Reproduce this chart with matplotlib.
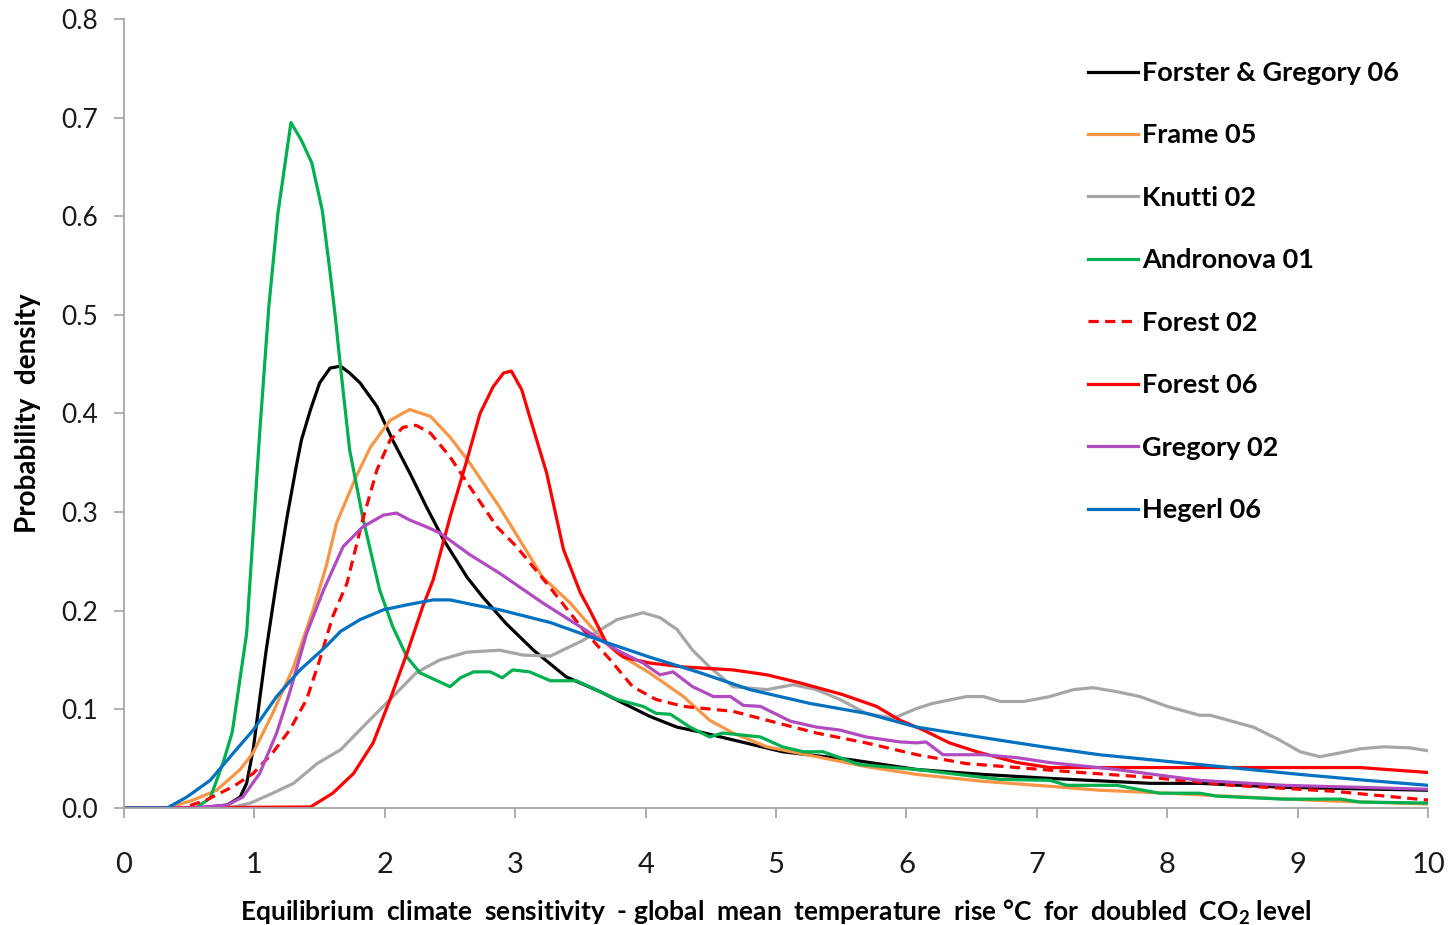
import matplotlib
matplotlib.use("Agg")
import matplotlib.pyplot as plt

plt.rcParams['font.family'] = ['Lato', 'DejaVu Sans']
plt.rcParams['mathtext.fontset'] = 'custom'
plt.rcParams['mathtext.rm'] = 'Lato'
plt.rcParams['mathtext.bf'] = 'Lato:bold'

# values (x = deg C, y = probability density)
forster_x = [0.0, 0.58, 0.79, 0.89, 0.94, 0.99, 1.04, 1.09, 1.17, 1.25, 1.32, 1.36, 1.43, 1.5,
             1.58, 1.66, 1.73, 1.81, 1.94, 2.06, 2.19, 2.32, 2.45, 2.63, 2.75, 2.93, 3.14, 3.39,
             3.65, 4.03, 4.24, 4.42, 4.67, 5.05, 5.57, 6.08, 6.59, 7.1, 7.87, 8.25, 8.89, 10.0]
forster_y = [0.0, 0.0, 0.003, 0.011, 0.025, 0.059, 0.11, 0.16, 0.23, 0.295, 0.346, 0.373, 0.404,
             0.431, 0.446, 0.448, 0.441, 0.431, 0.407, 0.373, 0.34, 0.305, 0.272, 0.234, 0.214,
             0.187, 0.16, 0.133, 0.118, 0.093, 0.082, 0.077, 0.069, 0.057, 0.049, 0.039, 0.034,
             0.030, 0.025, 0.025, 0.021, 0.018]

frame_x = [0.0, 0.33, 0.53, 0.71, 0.89, 0.99, 1.14, 1.3, 1.45, 1.55, 1.63, 1.78, 1.89, 2.04,
           2.19, 2.35, 2.5, 2.65, 2.88, 3.21, 3.42, 3.6, 3.78, 4.03, 4.29, 4.49, 4.67, 4.93, 5.31,
           5.69, 6.08, 6.59, 7.1, 7.48, 8.0, 8.76, 9.27, 10.0]
frame_y = [0.0, 0.0, 0.008, 0.018, 0.039, 0.056, 0.096, 0.143, 0.201, 0.245, 0.289, 0.336,
           0.366, 0.393, 0.404, 0.397, 0.376, 0.35, 0.305, 0.234, 0.208, 0.181, 0.157, 0.137,
           0.113, 0.089, 0.076, 0.062, 0.052, 0.042, 0.034, 0.027, 0.022, 0.018, 0.015, 0.010,
           0.007, 0.004]

knutti_x = [0.0, 0.84, 0.97, 1.14, 1.3, 1.48, 1.66, 1.86, 2.04, 2.24, 2.42, 2.63, 2.88, 3.06,
            3.27, 3.52, 3.78, 3.98, 4.11, 4.24, 4.36, 4.49, 4.67, 4.93, 5.13, 5.31, 5.49, 5.69,
            5.9, 6.08, 6.2, 6.46, 6.59, 6.72, 6.9, 7.1, 7.28, 7.43, 7.61, 7.79, 8.0, 8.25, 8.33,
            8.66, 8.86, 9.02, 9.17, 9.33, 9.48, 9.66, 9.86, 10.0]
knutti_y = [0.0, 0.001, 0.005, 0.015, 0.025, 0.045, 0.059, 0.086, 0.11, 0.137, 0.15, 0.158,
            0.16, 0.155, 0.154, 0.17, 0.191, 0.198, 0.193, 0.181, 0.16, 0.143, 0.123, 0.12,
            0.125, 0.12, 0.11, 0.096, 0.091, 0.101, 0.106, 0.113, 0.113, 0.108, 0.108, 0.113,
            0.12, 0.122, 0.118, 0.113, 0.103, 0.094, 0.094, 0.082, 0.069, 0.057, 0.052, 0.056,
            0.06, 0.062, 0.061, 0.058]

andronova_x = [0.0, 0.55, 0.66, 0.76, 0.83, 0.94, 1.04, 1.11, 1.18, 1.28, 1.36, 1.44, 1.52,
               1.58, 1.62, 1.66, 1.73, 1.83, 1.96, 2.06, 2.17, 2.27, 2.5, 2.58, 2.68, 2.81, 2.9,
               2.98, 3.11, 3.27, 3.47, 3.78, 3.98, 4.08, 4.19, 4.34, 4.49, 4.59, 4.88, 5.05, 5.21,
               5.36, 5.64, 6.08, 6.46, 6.72, 7.1, 7.23, 7.61, 7.94, 8.25, 8.38, 8.89, 9.33, 9.48,
               10.0]
andronova_y = [0.0, 0.0, 0.01, 0.046, 0.077, 0.177, 0.38, 0.508, 0.603, 0.695, 0.677, 0.654,
               0.606, 0.543, 0.498, 0.447, 0.363, 0.295, 0.221, 0.184, 0.153, 0.137, 0.123,
               0.132, 0.138, 0.138, 0.132, 0.14, 0.138, 0.129, 0.129, 0.110, 0.103, 0.096, 0.095,
               0.082, 0.072, 0.076, 0.072, 0.062, 0.057, 0.057, 0.044, 0.039, 0.033, 0.029, 0.028,
               0.023, 0.023, 0.015, 0.015, 0.012, 0.009, 0.009, 0.006, 0.005]

forest02_x = [0.0, 0.45, 0.63, 0.84, 0.99, 1.14, 1.27, 1.4, 1.5, 1.6, 1.71, 1.83, 1.94, 2.04,
              2.14, 2.24, 2.35, 2.5, 2.65, 2.86, 3.01, 3.24, 3.52, 3.73, 3.9, 4.08, 4.29, 4.67,
              4.93, 5.31, 5.69, 6.08, 6.46, 6.85, 7.23, 7.87, 8.5, 9.27, 10.0]
forest02_y = [0.0, 0.0, 0.008, 0.022, 0.035, 0.056, 0.079, 0.11, 0.15, 0.194, 0.228, 0.292,
              0.343, 0.373, 0.386, 0.388, 0.38, 0.356, 0.326, 0.285, 0.265, 0.228, 0.181, 0.15,
              0.123, 0.11, 0.103, 0.098, 0.089, 0.076, 0.066, 0.054, 0.045, 0.041, 0.037, 0.031,
              0.023, 0.017, 0.008]

forest06_x = [0.0, 1.43, 1.6, 1.76, 1.91, 2.04, 2.17, 2.29, 2.37, 2.5, 2.63, 2.73, 2.83, 2.91,
              2.97, 3.05, 3.11, 3.24, 3.37, 3.5, 3.57, 3.7, 3.83, 4.03, 4.29, 4.67, 4.93, 5.18,
              5.51, 5.77, 5.95, 6.13, 6.33, 6.54, 6.85, 7.1, 7.48, 8.25, 9.48, 9.79, 10.0]
forest06_y = [0.0, 0.001, 0.015, 0.035, 0.066, 0.11, 0.157, 0.204, 0.231, 0.295, 0.353, 0.4,
              0.427, 0.441, 0.443, 0.424, 0.397, 0.34, 0.262, 0.218, 0.201, 0.167, 0.153, 0.147,
              0.143, 0.14, 0.135, 0.127, 0.115, 0.103, 0.089, 0.079, 0.066, 0.057, 0.046, 0.041,
              0.041, 0.041, 0.041, 0.038, 0.036]

gregory_x = [0.0, 0.53, 0.79, 0.91, 1.04, 1.17, 1.27, 1.4, 1.53, 1.68, 1.83, 1.99, 2.09, 2.19,
             2.32, 2.42, 2.65, 2.88, 3.21, 3.52, 3.78, 3.98, 4.11, 4.21, 4.36, 4.52, 4.65, 4.75,
             4.88, 5.11, 5.31, 5.49, 5.69, 5.95, 6.08, 6.15, 6.28, 6.59, 6.85, 7.1, 7.61, 8.25,
             8.89, 10.0]
gregory_y = [0.0, 0.0, 0.003, 0.011, 0.035, 0.076, 0.117, 0.177, 0.221, 0.265, 0.285, 0.297,
             0.299, 0.292, 0.285, 0.279, 0.257, 0.238, 0.208, 0.182, 0.16, 0.147, 0.135, 0.138,
             0.123, 0.113, 0.113, 0.104, 0.103, 0.088, 0.082, 0.079, 0.072, 0.067, 0.066, 0.067,
             0.054, 0.054, 0.051, 0.046, 0.039, 0.028, 0.023, 0.019]

hegerl_x = [0.03, 0.33, 0.48, 0.66, 0.84, 0.99, 1.17, 1.35, 1.55, 1.66, 1.81, 1.99, 2.17, 2.37,
            2.5, 2.68, 2.88, 3.09, 3.27, 3.65, 4.03, 4.42, 4.8, 5.26, 5.69, 6.08, 6.46, 6.85,
            7.1, 7.48, 8.25, 9.02, 9.53, 10.0]
hegerl_y = [0.0, 0.0, 0.011, 0.028, 0.056, 0.079, 0.113, 0.14, 0.164, 0.179, 0.191, 0.201,
            0.206, 0.211, 0.211, 0.206, 0.201, 0.194, 0.188, 0.17, 0.153, 0.137, 0.12, 0.106,
            0.096, 0.082, 0.074, 0.066, 0.061, 0.054, 0.044, 0.034, 0.028, 0.023]

labels = ['Forster & Gregory 06', 'Frame 05', 'Knutti 02', 'Andronova 01',
          'Forest 02', 'Forest 06', 'Gregory 02', 'Hegerl 06']
colors = ['#000000', '#F79646', '#A6A6A6', '#00B050', '#FF0000', '#FF0000', '#B04BC0', '#0070C0']
series = [(forster_x, forster_y), (frame_x, frame_y), (knutti_x, knutti_y),
          (andronova_x, andronova_y), (forest02_x, forest02_y), (forest06_x, forest06_y),
          (gregory_x, gregory_y), (hegerl_x, hegerl_y)]

fig = plt.figure(figsize=(14.56, 9.25), dpi=100)
ax = fig.add_axes([0.0852, 0.1265, 0.8956, 0.853])

for (xs, ys), lab, col in zip(series, labels, colors):
    ls = (0, (3.2, 2.0)) if lab == 'Forest 02' else '-'
    ax.plot(xs, ys, color=col, lw=2.3, ls=ls, label=lab, solid_joinstyle='round')

ax.set_xlim(0, 10)
ax.set_ylim(0, 0.8)
ax.set_xticks(range(0, 11))
ax.set_yticks([i / 10 for i in range(9)])
ax.set_yticklabels([f'{i / 10:.1f}' for i in range(9)])

for side in ['top', 'right']:
    ax.spines[side].set_visible(False)
for side in ['left', 'bottom']:
    ax.spines[side].set_color('#A6A6A6')
    ax.spines[side].set_linewidth(1.3)
ax.tick_params(axis='both', colors='#A6A6A6', length=7, width=1.3, direction='out')
ax.tick_params(axis='y', labelsize=19, labelcolor='#1a1a1a', pad=12)
ax.tick_params(axis='x', labelsize=21, labelcolor='#1a1a1a', pad=25)

ax.set_xlabel(r'Equilibrium  climate  sensitivity  - global  mean  temperature  rise °C  for  doubled  CO$_\mathbf{2}$ level',
              fontsize=19, fontweight='bold', labelpad=14)
ax.set_ylabel('Probability  density', fontsize=20, fontweight='bold', labelpad=14)

fig.legend(loc='upper left', bbox_to_anchor=(1088 / 1456, 1 - 61 / 925), frameon=False,
           prop={'weight': 'bold', 'size': 19.5}, handlelength=1.85,
           handletextpad=0.15, labelspacing=1.42, borderpad=0, borderaxespad=0)

fig.savefig('out.png', dpi=100)
